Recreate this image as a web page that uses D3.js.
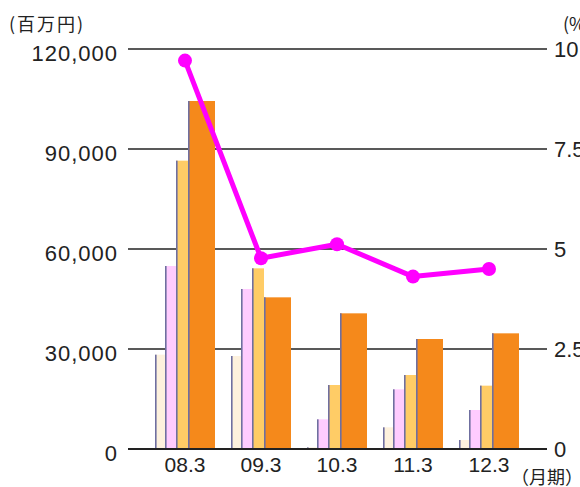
<!DOCTYPE html>
<html><head><meta charset="utf-8">
<script src="https://cdn.jsdelivr.net/npm/d3@7"></script>
<style>body{margin:0;background:#fff}svg{display:block}</style>
</head><body>
<svg id="c" width="580" height="487"></svg>
<script>
const categories = ["08.3","09.3","10.3","11.3","12.3"];
const seriesA = [28300, 27900, 500, 6500, 2700];      // cream
const seriesB = [54900, 48000, 8900, 17900, 11700];   // pink
const seriesC = [86500, 54200, 19200, 22200, 19000];  // light orange
const seriesD = [104400, 45500, 40700, 33000, 34700]; // orange
const ratio = [9.71, 4.77, 5.12, 4.31, 4.5];          // %
const leftTicks = [0, 30000, 60000, 90000, 120000];
const rightTicks = [0, 2.5, 5, 7.5, 10];
const rightTickLabels = ["0", "2.5", "5", "7.5", "10"];

(function(){
const svg = d3.select("#c");
const plotL = 128, plotR = 547, plotTop = 49, plotBottom = 449;
const x = d3.scaleBand().domain(categories).range([147, 527]).padding(0);
const yL = d3.scaleLinear().domain([0, 120000]).range([plotBottom, plotTop]);
const yR = d3.scaleLinear().domain([0, 10]).range([plotBottom, plotTop]);

svg.append("g").selectAll("line").data(leftTicks).join("line")
  .attr("x1", plotL).attr("x2", plotR)
  .attr("y1", d => yL(d)).attr("y2", d => yL(d))
  .attr("stroke", "#222").attr("stroke-width", 1.6);

const series = [
  {vals: seriesA, color: "#fdf1dd", off: [-30, -20]},
  {vals: seriesB, color: "#ffccff", off: [-20, -9]},
  {vals: seriesC, color: "#ffcc66", off: [-9, 3]},
  {vals: seriesD, color: "#f5891b", off: [3, 30]}
];
const cx = c => x(c) + x.bandwidth() / 2;
series.forEach(s => {
  const g = svg.append("g");
  const data = categories.map((c, i) => ({c, v: s.vals[i]}));
  g.selectAll("rect.b").data(data).join("rect").attr("class","b")
    .attr("x", d => cx(d.c) + s.off[0])
    .attr("width", s.off[1] - s.off[0])
    .attr("y", d => yL(d.v))
    .attr("height", d => plotBottom - yL(d.v))
    .attr("fill", s.color);
  g.selectAll("rect.e").data(data).join("rect").attr("class","e")
    .attr("x", d => cx(d.c) + s.off[0])
    .attr("width", 1.6)
    .attr("y", d => yL(d.v))
    .attr("height", d => plotBottom - yL(d.v))
    .attr("fill", "#6f6fa0");
});

svg.append("line").attr("x1", plotL).attr("x2", plotR)
  .attr("y1", plotBottom).attr("y2", plotBottom).attr("stroke", "#222").attr("stroke-width", 1.8);

const lineData = categories.map((c, i) => ({c, v: ratio[i]}));
svg.append("path").datum(lineData)
  .attr("d", d3.line().x(d => cx(d.c)).y(d => yR(d.v)))
  .attr("fill", "none").attr("stroke", "#ff00ff").attr("stroke-width", 5)
  .attr("stroke-linejoin", "round");
svg.append("g").selectAll("circle").data(lineData).join("circle")
  .attr("cx", d => cx(d.c)).attr("cy", d => yR(d.v)).attr("r", 7)
  .attr("fill", "#ff00ff");

const fmt = d3.format(",");
svg.append("g").selectAll("text").data(leftTicks).join("text")
  .attr("x", 118).attr("y", d => yL(d) + 4)
  .attr("text-anchor", "end").attr("dominant-baseline", "central")
  .attr("font-family", "Liberation Sans, Arial, sans-serif").attr("font-size", 22)
  .attr("letter-spacing", 1).attr("fill", "#222")
  .text(d => fmt(d));

svg.append("g").selectAll("text").data(rightTicks).join("text")
  .attr("x", 554).attr("y", d => yR(d))
  .attr("dominant-baseline", "central")
  .attr("font-family", "Liberation Sans, Arial, sans-serif").attr("font-size", 22)
  .attr("fill", "#222")
  .text((d, i) => rightTickLabels[i]);

svg.append("g").selectAll("text").data(categories).join("text")
  .attr("x", d => cx(d)).attr("y", 464)
  .attr("text-anchor", "middle").attr("dominant-baseline", "central")
  .attr("font-family", "Liberation Sans, Arial, sans-serif").attr("font-size", 21)
  .attr("fill", "#222")
  .text(d => d);

svg.append("text").attr("x", 9).attr("y", 31)
  .attr("font-family", "Noto Sans CJK JP, sans-serif").attr("font-size", 18)
  .attr("letter-spacing", 2).attr("fill", "#222").text("(百万円)");
svg.append("text").attr("x", 563).attr("y", 31)
  .attr("font-family", "Noto Sans CJK JP, sans-serif").attr("font-size", 18)
  .attr("fill", "#222").text("(%)");
svg.append("text").attr("x", 511).attr("y", 484)
  .attr("font-family", "Noto Sans CJK JP, sans-serif").attr("font-size", 18)
  .attr("fill", "#222").text("（月期）");
})();
</script>
</body></html>
